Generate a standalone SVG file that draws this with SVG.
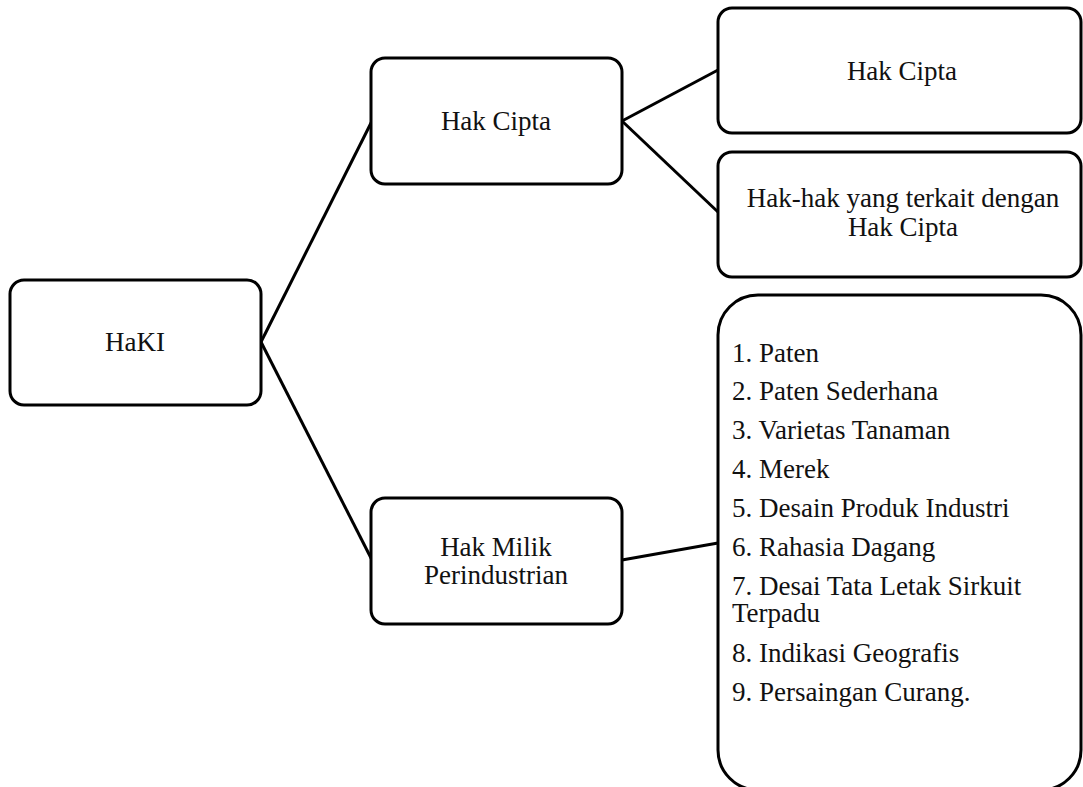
<svg xmlns="http://www.w3.org/2000/svg" width="1083" height="787" viewBox="0 0 1083 787">
<style>
.box{fill:#fff;stroke:#000;stroke-width:3}
.t{font-family:"Liberation Serif","Times New Roman",serif;font-size:27px;fill:#111}
.c{text-anchor:middle}
.ln{stroke:#000;stroke-width:3;fill:none}
</style>
<rect width="1083" height="787" fill="#fff"/>
<g id="connectors">
<line class="ln" x1="261" y1="342" x2="372" y2="121"/>
<line class="ln" x1="261" y1="342" x2="372" y2="560"/>
<line class="ln" x1="622" y1="121" x2="718" y2="70"/>
<line class="ln" x1="622" y1="121" x2="718" y2="212"/>
<line class="ln" x1="622" y1="560" x2="718" y2="543"/>
</g>
<g id="haki">
<rect class="box" x="10" y="280" width="251" height="125" rx="14"/>
<text class="t c" x="135" y="351">HaKI</text>
</g>
<g id="hakcipta">
<rect class="box" x="371" y="58" width="251" height="126" rx="14"/>
<text class="t c" x="496" y="130">Hak Cipta</text>
</g>
<g id="hakmilik">
<rect class="box" x="371" y="498" width="251" height="126" rx="14"/>
<text class="t c" x="496" y="556">Hak Milik</text>
<text class="t c" x="496" y="584">Perindustrian</text>
</g>
<g id="hakcipta2">
<rect class="box" x="718" y="8" width="363" height="125" rx="14"/>
<text class="t c" x="902" y="80">Hak Cipta</text>
</g>
<g id="terkait">
<rect class="box" x="718" y="152" width="363" height="125" rx="14"/>
<text class="t c" x="903" y="207">Hak-hak yang terkait dengan</text>
<text class="t c" x="903" y="236">Hak Cipta</text>
</g>
<g id="list">
<rect class="box" x="718" y="295" width="363" height="495" rx="40"/>
<text class="t" x="732" y="362">1. Paten</text>
<text class="t" x="732" y="400">2. Paten Sederhana</text>
<text class="t" x="732" y="439">3. Varietas Tanaman</text>
<text class="t" x="732" y="478">4. Merek</text>
<text class="t" x="732" y="517">5. Desain Produk Industri</text>
<text class="t" x="732" y="556">6. Rahasia Dagang</text>
<text class="t" x="732" y="595">7. Desai Tata Letak Sirkuit</text>
<text class="t" x="732" y="622">Terpadu</text>
<text class="t" x="732" y="662">8. Indikasi Geografis</text>
<text class="t" x="732" y="701">9. Persaingan Curang.</text>
</g>
</svg>
